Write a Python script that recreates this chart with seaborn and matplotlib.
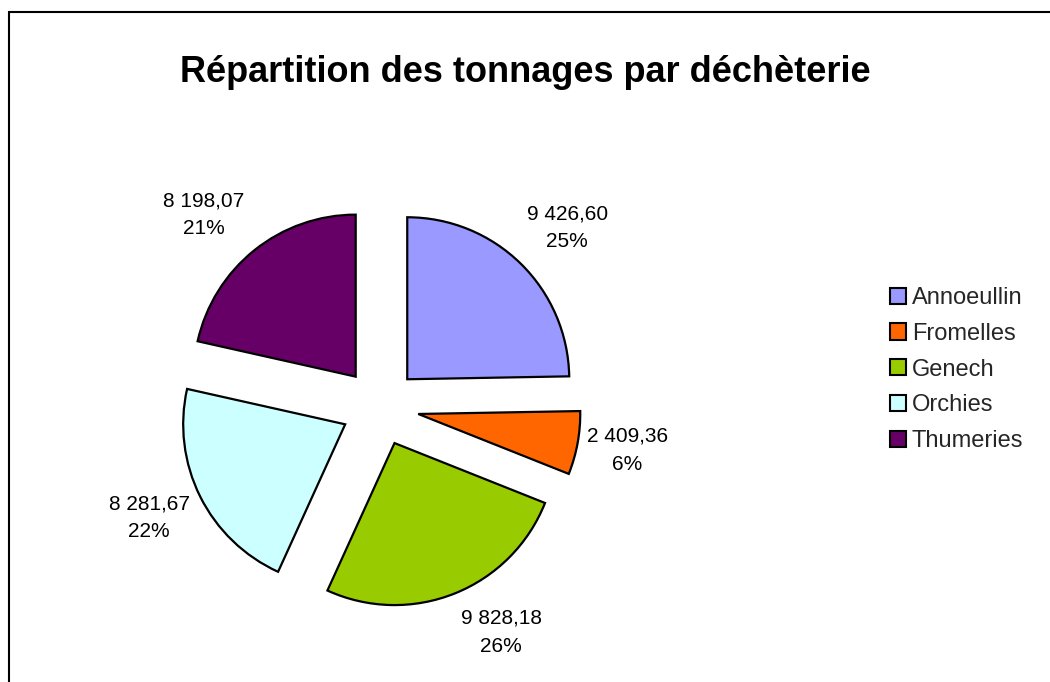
import numpy as np
import matplotlib
matplotlib.use("Agg")
import matplotlib.pyplot as plt
import seaborn as sns
from matplotlib.patches import Patch, Rectangle

# ---- data ----
categories = ["Annoeullin", "Fromelles", "Genech", "Orchies", "Thumeries"]
tonnages = [9426.60, 2409.36, 9828.18, 8281.67, 8198.07]
colors = ["#9999FF", "#FF6600", "#99CC00", "#CCFFFF", "#660066"]
title = "Répartition des tonnages par déchèterie"

# ---- style ----
sns.set_theme(style="white")
plt.rcParams["font.family"] = ["Liberation Sans", "DejaVu Sans"]

W, H = 1050, 682
fig = plt.figure(figsize=(W / 100, H / 100), dpi=100)
fig.patch.set_facecolor("white")

# pie axes: centre at (380, 407) px, radius 162 px
R_PX = 162
LIM = 1.75
cx, cy = 380, 407
size = 2 * R_PX * LIM
ax = fig.add_axes([(cx - size / 2) / W, (H - cy - size / 2) / H, size / W, size / H])

explode = [0.24] * len(tonnages)
wedges, _ = ax.pie(tonnages, colors=colors, startangle=90, counterclock=False,
                   explode=explode, radius=1.0,
                   wedgeprops=dict(edgecolor="black", linewidth=1.6))
ax.set_xlim(-LIM, LIM)
ax.set_ylim(-LIM, LIM)
ax.set_aspect("equal")
ax.axis("off")

total = sum(tonnages)
# label placement (distance from exploded centre, angle tweak in degrees)
label_dist = [1.36, 1.31, 1.34, 1.34, 1.37]
label_dang = [-2.1, 0.5, 7.5, -0.95, 4.5]


def fmt_fr(v):
    s = f"{v:,.2f}"
    return s.replace(",", " ").replace(".", ",")


for w, v, d, da in zip(wedges, tonnages, label_dist, label_dang):
    ang = np.deg2rad((w.theta1 + w.theta2) / 2 + da)
    x0, y0 = w.center
    tx = x0 + d * np.cos(ang)
    ty = y0 + d * np.sin(ang)
    ax.text(tx, ty, f"{fmt_fr(v)}\n{round(v / total * 100):.0f}%",
            ha="center", va="center", fontsize=15, linespacing=1.6,
            color="black")

# title
fig.text(0.5, 1 - 72 / H, title, ha="center", va="center",
         fontsize=26, fontweight="bold", color="black")

# legend
handles = [Patch(facecolor=c, edgecolor="black", linewidth=1.5) for c in colors]
fig.legend(handles, categories, loc="center left",
           bbox_to_anchor=(890 / W, 1 - 369.5 / H), frameon=False,
           fontsize=17, handlelength=0.68, handleheight=0.68,
           handletextpad=0.25, labelspacing=0.58, borderpad=0, borderaxespad=0)

# outer frame
fig.add_artist(Rectangle((9 / W, -0.1), 1.2, (1 - 12 / H) + 0.1,
                         transform=fig.transFigure, fill=False,
                         edgecolor="black", linewidth=1.5))

fig.savefig("out.png", dpi=100)
